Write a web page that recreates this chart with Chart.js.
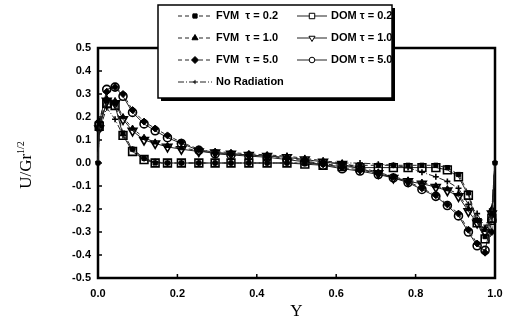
<!DOCTYPE html>
<html>
<head>
<meta charset="utf-8">
<script src="https://cdn.jsdelivr.net/npm/chart.js@4.4.0/dist/chart.umd.min.js"></script>
<style>
html, body { margin: 0; padding: 0; background: #fff; }
#wrap { width: 513px; height: 326px; }
</style>
</head>
<body>
<div id="wrap"><canvas id="chartVelocity"></canvas></div>
<script>
// position across the cavity (Y)
var yPos = [0, 0.003, 0.022, 0.043, 0.063, 0.087, 0.116, 0.144, 0.175, 0.21, 0.254, 0.295, 0.335, 0.38, 0.426, 0.476, 0.521, 0.567, 0.615, 0.66, 0.706, 0.744, 0.781, 0.816, 0.851, 0.88, 0.908, 0.933, 0.955, 0.975, 0.992, 1.0];

// U/Gr^1/2 for each case
var fvm02 = [0, 0.17, 0.27, 0.26, 0.13, 0.06, 0.02, 0.0, 0.0, 0.0, 0.0, 0.0, 0.0, 0.0, 0.0, 0.0, 0.0, -0.005, -0.01, -0.01, -0.01, -0.01, -0.01, -0.01, -0.01, -0.02, -0.05, -0.13, -0.25, -0.32, -0.22, 0];
var dom02 = [0, 0.16, 0.26, 0.25, 0.12, 0.05, 0.015, 0.0, 0.0, 0.0, 0.0, 0.0, 0.0, 0.0, 0.0, 0.0, -0.005, -0.01, -0.015, -0.02, -0.02, -0.02, -0.02, -0.02, -0.02, -0.03, -0.06, -0.14, -0.26, -0.33, -0.24, 0];
var fvm10 = [0, 0.16, 0.28, 0.27, 0.20, 0.15, 0.11, 0.09, 0.075, 0.065, 0.055, 0.05, 0.045, 0.04, 0.035, 0.03, 0.02, 0.01, 0.0, -0.02, -0.04, -0.06, -0.075, -0.085, -0.10, -0.113, -0.135, -0.20, -0.25, -0.29, -0.20, 0];
var dom10 = [0, 0.15, 0.27, 0.26, 0.19, 0.14, 0.10, 0.085, 0.07, 0.06, 0.05, 0.045, 0.04, 0.035, 0.03, 0.025, 0.015, 0.005, -0.005, -0.025, -0.045, -0.065, -0.08, -0.09, -0.105, -0.12, -0.145, -0.21, -0.26, -0.30, -0.22, 0];
var fvm50 = [0, 0.18, 0.31, 0.33, 0.30, 0.23, 0.18, 0.15, 0.12, 0.09, 0.06, 0.045, 0.04, 0.035, 0.03, 0.02, 0.01, -0.005, -0.02, -0.03, -0.045, -0.06, -0.08, -0.11, -0.14, -0.18, -0.22, -0.29, -0.35, -0.39, -0.30, 0];
var dom50 = [0, 0.17, 0.32, 0.33, 0.29, 0.22, 0.17, 0.14, 0.11, 0.085, 0.055, 0.04, 0.035, 0.03, 0.025, 0.015, 0.005, -0.01, -0.025, -0.035, -0.05, -0.065, -0.085, -0.115, -0.145, -0.185, -0.23, -0.30, -0.36, -0.38, -0.25, 0];
var noRad = [0, 0.14, 0.24, 0.19, 0.12, 0.06, 0.02, 0.005, 0.0, 0.0, 0.0, 0.0, 0.0, 0.0, 0.0, 0.0, 0.0, 0.0, 0.0, 0.0, -0.005, -0.01, -0.02, -0.04, -0.06, -0.08, -0.11, -0.18, -0.22, -0.28, -0.20, 0];

var xTicks = [0, 0.2, 0.4, 0.6, 0.8, 1.0];
var yTicks = [-0.5, -0.4, -0.3, -0.2, -0.1, 0, 0.1, 0.2, 0.3, 0.4, 0.5];

var labelFont = "bold 11px 'Liberation Sans', Arial, sans-serif";

function pts(vals) {
    return yPos.map(function (x, i) {
        return { x: x, y: vals[i] };
    });
}

var series = [
    { label: "FVM  τ = 0.2", data: fvm02, style: "rect", r: 3, fill: true, dash: [4, 3] },
    { label: "DOM τ = 0.2", data: dom02, style: "rect", r: 5.5, fill: false, dash: [] },
    { label: "FVM  τ = 1.0", data: fvm10, style: "triangle", r: 3.5, fill: true, dash: [4, 3] },
    { label: "DOM τ = 1.0", data: dom10, style: "triangle", r: 5, fill: false, dash: [], rot: 180 },
    { label: "FVM  τ = 5.0", data: fvm50, style: "rectRot", r: 3.5, fill: true, dash: [4, 3] },
    { label: "DOM τ = 5.0", data: dom50, style: "circle", r: 4, fill: false, dash: [] },
    { label: "No Radiation", data: noRad, style: "cross", r: 3, fill: false, dash: [6, 2, 1, 2] },
];

var datasets = series.map(function (s) {
    // wall points (Y = 0 and Y = 1) are drawn as small dots
    var radii = yPos.map(function (x) {
        return (x === 0 || x === 1) ? 2 : s.r;
    });
    return {
        label: s.label,
        data: pts(s.data),
        showLine: true,
        borderColor: "#222",
        borderWidth: 1,
        borderDash: s.dash,
        backgroundColor: s.fill ? "#000" : "rgba(0,0,0,0)",
        pointStyle: s.style,
        pointRadius: radii,
        pointRotation: s.rot || 0,
        pointBorderColor: "#000",
        pointBorderWidth: s.fill ? 1 : 1.6,
        pointBackgroundColor: s.fill ? "#000" : "rgba(0,0,0,0)",
        tension: 0,
        clip: 8,
    };
});

// frame with inward ticks, drawn under the markers
var framePlugin = {
    id: "frame",
    beforeDatasetsDraw: function (chart) {
        var ctx = chart.ctx;
        var a = chart.chartArea;
        var xs = chart.scales.x, ys = chart.scales.y;
        ctx.save();
        ctx.strokeStyle = "#000";
        ctx.lineWidth = 1.5;
        yTicks.forEach(function (v) {
            var py = ys.getPixelForValue(v);
            ctx.beginPath();
            ctx.moveTo(a.left, py);
            ctx.lineTo(a.left + 4, py);
            ctx.stroke();
        });
        xTicks.forEach(function (v) {
            var px = xs.getPixelForValue(v);
            ctx.beginPath();
            ctx.moveTo(px, a.bottom);
            ctx.lineTo(px, a.bottom - 4);
            ctx.stroke();
        });
        ctx.lineWidth = 2.5;
        ctx.strokeRect(a.left, a.top, a.right - a.left, a.bottom - a.top);
        ctx.restore();
    },
    afterDraw: function (chart) {
        var ctx = chart.ctx;
        var a = chart.chartArea;
        ctx.save();
        // axis titles
        ctx.fillStyle = "#000";
        ctx.textBaseline = "alphabetic";
        ctx.font = "17px 'Liberation Serif', 'Times New Roman', serif";
        ctx.textAlign = "center";
        ctx.fillText("Y", (a.left + a.right) / 2, 316);
        ctx.translate(31, 165);
        ctx.rotate(-Math.PI / 2);
        ctx.font = "17px 'Liberation Serif', 'Times New Roman', serif";
        var w1 = ctx.measureText("U/Gr").width;
        ctx.font = "10px 'Liberation Serif', 'Times New Roman', serif";
        var w2 = ctx.measureText("1/2").width;
        var sx = -(w1 + w2) / 2;
        ctx.textAlign = "left";
        ctx.font = "17px 'Liberation Serif', 'Times New Roman', serif";
        ctx.fillText("U/Gr", sx, 0);
        ctx.font = "10px 'Liberation Serif', 'Times New Roman', serif";
        ctx.fillText("1/2", sx + w1, -7);
        ctx.restore();

        // legend box with shadow
        ctx.save();
        var bx = 158, by = 5, bw = 234, bh = 93;
        ctx.fillStyle = "#000";
        ctx.fillRect(bx + 3, by + 3, bw, bh);
        ctx.fillStyle = "#fff";
        ctx.fillRect(bx, by, bw, bh);
        ctx.strokeStyle = "#000";
        ctx.lineWidth = 1.5;
        ctx.strokeRect(bx, by, bw, bh);

        var rows = [16, 38, 60, 82];
        var cells = [
            [0, 0, 0], [1, 0, 1], [2, 1, 0], [3, 1, 1], [4, 2, 0], [5, 2, 1], [6, 3, 0],
        ];
        ctx.font = labelFont;
        ctx.textBaseline = "middle";
        ctx.textAlign = "left";
        cells.forEach(function (c) {
            var s = series[c[0]];
            var ry = rows[c[1]];
            var x0 = c[2] === 0 ? 178 : 297;
            var x1 = x0 + (c[2] === 0 ? 34 : 30);
            ctx.strokeStyle = "#222";
            ctx.lineWidth = 1;
            ctx.setLineDash(s.dash);
            ctx.beginPath();
            ctx.moveTo(x0, ry);
            ctx.lineTo(x1, ry);
            ctx.stroke();
            ctx.setLineDash([]);
            ctx.fillStyle = s.fill ? "#000" : "#fff";
            ctx.strokeStyle = "#000";
            Chart.helpers.drawPoint(ctx, {
                pointStyle: s.style,
                radius: s.fill ? s.r : s.r * 0.7,
                rotation: s.rot || 0,
                borderWidth: 1.2,
            }, (x0 + x1) / 2, ry);
            ctx.fillStyle = "#000";
            ctx.fillText(s.label, x1 + 4, ry);
        });
        ctx.restore();
    },
};

var ctx = document.getElementById("chartVelocity").getContext("2d");

var myChart = new Chart(ctx, {
    type: "scatter",
    data: { datasets: datasets },
    options: {
        responsive: true,
        maintainAspectRatio: false,
        animation: false,
        layout: { padding: { top: 48, right: 18, left: 0, bottom: 0 } },
        plugins: {
            legend: { display: false },
            tooltip: { enabled: false },
        },
        scales: {
            x: {
                type: "linear",
                min: 0,
                max: 1,
                afterBuildTicks: function (scale) {
                    scale.ticks = xTicks.map(function (v) { return { value: v }; });
                },
                afterFit: function (scale) { scale.height = 48; },
                ticks: {
                    color: "#000",
                    font: { family: "'Liberation Sans', Arial, sans-serif", size: 11, weight: "bold" },
                    padding: 9,
                    maxRotation: 0,
                    callback: function (v) { return Math.abs(v) < 1e-9 ? "0.0" : v.toFixed(1); },
                },
                grid: { display: false, drawTicks: false },
                border: { display: false },
            },
            y: {
                type: "linear",
                min: -0.5,
                max: 0.5,
                afterBuildTicks: function (scale) {
                    scale.ticks = yTicks.map(function (v) { return { value: v }; });
                },
                afterFit: function (scale) { scale.width = 98; },
                ticks: {
                    color: "#000",
                    font: { family: "'Liberation Sans', Arial, sans-serif", size: 11, weight: "bold" },
                    padding: 7,
                    callback: function (v) { return Math.abs(v) < 1e-9 ? "0.0" : v.toFixed(1); },
                },
                grid: { display: false, drawTicks: false },
                border: { display: false },
            },
        },
    },
    plugins: [framePlugin],
});
</script>
</body>
</html>
